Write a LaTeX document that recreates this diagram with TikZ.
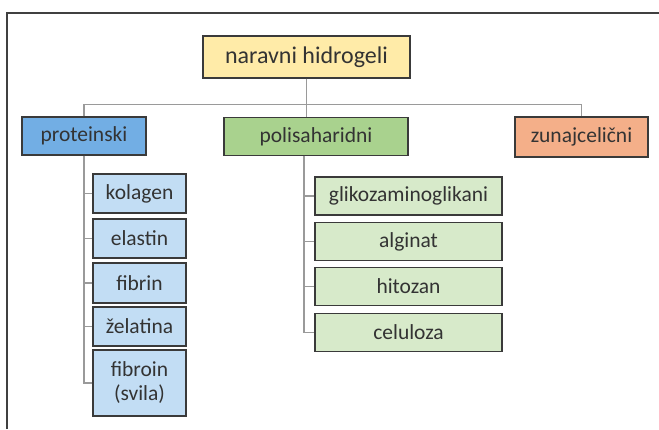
\documentclass[tikz,border=0pt]{standalone}
\usepackage{fontspec}
\setmainfont{Carlito}
\definecolor{rootfill}{HTML}{FFEBA8}
\definecolor{protfill}{HTML}{72AEE4}
\definecolor{polifill}{HTML}{A9D28E}
\definecolor{zunfill}{HTML}{F4AF89}
\definecolor{bluechild}{HTML}{C2DDF4}
\definecolor{greenchild}{HTML}{D7EACA}
\definecolor{boxline}{HTML}{3A3A3A}
\definecolor{connline}{HTML}{9A9A9A}
\definecolor{txt}{HTML}{333333}
\definecolor{framecol}{HTML}{404040}
\begin{document}
\begin{tikzpicture}[x=1pt,y=-1pt,
  box/.style={draw=boxline,line width=1.4pt,inner sep=0pt,text=txt,align=center,
    font=\fontsize{21.5}{24}\selectfont},
  conn/.style={draw=connline,line width=1.3pt},
  pchild/.style={box,fill=bluechild,minimum width=93pt},
  gchild/.style={box,fill=greenchild,minimum width=187pt,minimum height=38pt}]
\useasboundingbox (0,0) rectangle (659,429);
\draw[framecol,line width=1.3pt] (7,429) -- (7,13) -- (659,13);
% top level
\node[box,fill=rootfill,minimum width=207pt,minimum height=42pt,font=\fontsize{24}{26}\selectfont] (root) at (306.5,57) {naravni hidrogeli};
\node[box,fill=protfill,minimum width=124pt,minimum height=38pt] (prot) at (84,136) {proteinski};
\node[box,fill=polifill,minimum width=184pt,minimum height=38pt] (poli) at (316,136.5) {polisaharidni};
\node[box,fill=zunfill,minimum width=133pt,minimum height=40pt] (zun) at (581.5,137) {zunajcelični};
% protein children
\node[pchild,minimum height=39pt] (kol) at (139.5,193.5) {kolagen};
\node[pchild,minimum height=39pt] (ela) at (139.5,238.5) {elastin};
\node[pchild,minimum height=40pt] (fib) at (139.5,283) {fibrin};
\node[pchild,minimum height=39pt] (zel) at (139.5,326.5) {želatina};
\node[pchild,minimum height=66pt] (fbr) at (139.5,383) {fibroin\\(svila)};
% polysaccharide children
\node[gchild] (gli) at (408.5,196) {glikozaminoglikani};
\node[gchild] (alg) at (408.5,241.5) {alginat};
\node[gchild] (hit) at (408.5,286.5) {hitozan};
\node[gchild] (cel) at (408.5,332.5) {celuloza};
% connectors
\draw[conn] (prot.north) -- ++(0,-12) -| (zun.north);
\draw[conn] (root.south) -- (root.south |- poli.north);
\draw[conn] (prot.south) |- (fbr.west);
\foreach \c in {kol,ela,fib,zel} \draw[conn] (prot.south |- \c.west) -- (\c.west);
\coordinate (ps) at (304,155.5);
\draw[conn] (ps) |- (cel.west);
\foreach \c in {gli,alg,hit} \draw[conn] (ps |- \c.west) -- (\c.west);
\end{tikzpicture}
\end{document}
